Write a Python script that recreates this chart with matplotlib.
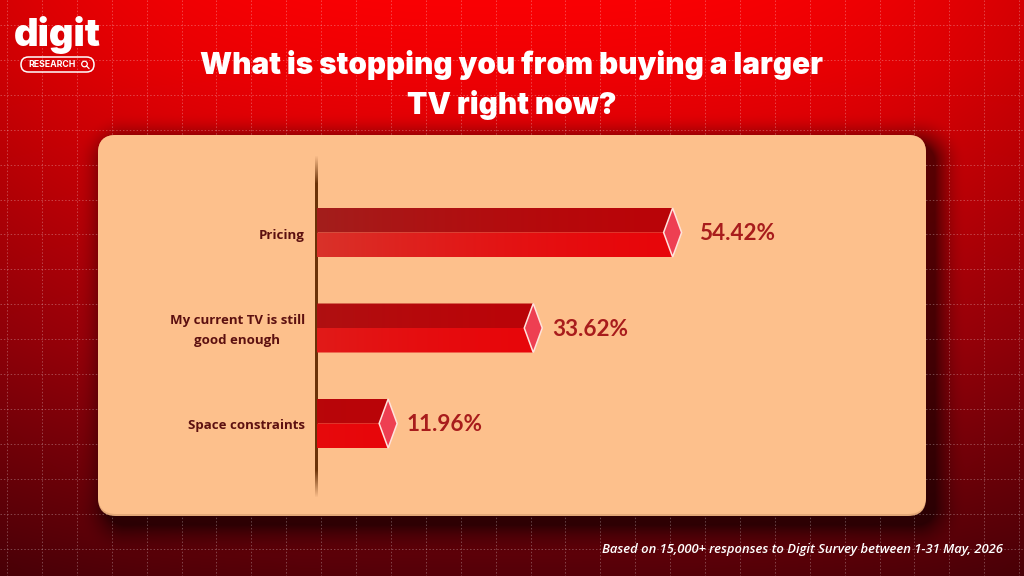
import numpy as np
import matplotlib
matplotlib.use('Agg')
import matplotlib.pyplot as plt
from matplotlib.patches import Polygon, FancyBboxPatch, Circle

categories = ['Pricing', 'My current TV is still\ngood enough', 'Space constraints']
values = [54.42, 33.62, 11.96]
value_labels = ['54.42%', '33.62%', '11.96%']
title = 'What is stopping you from buying a larger\nTV right now?'
footer = 'Based on 15,000+ responses to Digit Survey between 1-31 May, 2026'

W, H = 1024, 576
fig = plt.figure(figsize=(W / 100, H / 100), dpi=100)

# page axes in pixel units, y pointing down
bg = fig.add_axes([0, 0, 1, 1])
bg.set_xlim(0, W)
bg.set_ylim(H, 0)
bg.axis('off')

# red background, fading to maroon, with a soft shadow under the panel
px, py = np.meshgrid(np.arange(W) + .5, np.arange(H) + .5)
top = np.array([250, 0, 4]) / 255
mid = np.array([165, 0, 10]) / 255
bot = np.array([85, 0, 8]) / 255
t = py / H
img = np.zeros((H, W, 3))
for c in range(3):
    img[..., c] = np.interp(t, [0, .12, .6, 1], [top[c], top[c] * .96, mid[c], bot[c]])
edge = np.abs(px - W / 2) / (W / 2)
img *= (1 - .15 * edge[..., None] ** 3)

x0, x1, y0, y1, rad = 98, 926, 135, 516, 18
cx, cy = (x0 + x1) / 2 + 9, (y0 + y1) / 2 + 9
qx = np.abs(px - cx) - ((x1 - x0) / 2 - rad)
qy = np.abs(py - cy) - ((y1 - y0) / 2 - rad)
dist = np.hypot(np.maximum(qx, 0), np.maximum(qy, 0)) + np.minimum(np.maximum(qx, qy), 0) - rad
shadow = np.clip(1 - dist / 32, 0, 1) ** 2 * .55
img *= (1 - shadow[..., None])
bg.imshow(img, extent=[0, W, H, 0], aspect='auto', zorder=0, interpolation='bilinear')
bg.set_xlim(0, W)
bg.set_ylim(H, 0)

# dotted grid
for gx in np.arange(7, W, 34.9):
    bg.plot([gx, gx], [0, H], color='white', lw=.7, ls=(0, (1.5, 2)), alpha=.27, zorder=1)
for gy in np.arange(25, H, 34.9):
    bg.plot([0, W], [gy, gy], color='white', lw=.7, ls=(0, (1.5, 2)), alpha=.27, zorder=1)

# panel
bg.add_patch(FancyBboxPatch((x0 + rad, y0 + rad), x1 - x0 - 2 * rad, y1 - y0 - 2 * rad,
                            boxstyle='round,pad=%d,rounding_size=%d' % (rad, rad),
                            fc='#e3a878', ec='none', zorder=2))
bg.add_patch(FancyBboxPatch((x0 + rad, y0 + rad), x1 - x0 - 2 * rad, y1 - y0 - 2 * rad - 2,
                            boxstyle='round,pad=%d,rounding_size=%d' % (rad, rad),
                            fc='#fdc08c', ec='none', zorder=3))

# title and footer
bg.text(512, 85, title, color='white', fontsize=21.4, fontweight='black', family='Inter',
        ha='center', va='center', linespacing=1.43, zorder=5)
bg.text(1003, 549, footer, color='white', fontsize=9.4, style='italic', fontweight='semibold',
        family='Open Sans', ha='right', va='center', zorder=5)

# logo
bg.text(57.5, 35, 'digit', color='white', fontsize=27.5, fontweight='black', family='Inter',
        ha='center', va='center', zorder=5)
bg.add_patch(FancyBboxPatch((27, 63), 61, 3, boxstyle='round,pad=6,rounding_size=7.5',
                            fc='none', ec='white', lw=1.1, zorder=5))
bg.text(52.5, 64.5, 'RESEARCH', color='white', fontsize=6.3, fontweight='bold', family='Inter',
        ha='center', va='center', zorder=5)
bg.add_patch(Circle((84.5, 64), 2.8, fc='none', ec='white', lw=.9, zorder=5))
bg.plot([86.5, 89], [66, 68.5], color='white', lw=.9, zorder=5)

# chart axes: x in percent, one row per category
ax_left, ax_right = 317, 926
px_per_pct = 6.7
ax = fig.add_axes([ax_left / W, 1 - 516 / H, (ax_right - ax_left) / W, (516 - 135) / H])
ax.set_xlim(0, (ax_right - ax_left) / px_per_pct)
ax.set_ylim(516, 135)
ax.axis('off')
ax.patch.set_alpha(0)

row_y = 232.5 + 95.5 * np.arange(len(values))
half_h = 24.5
dx = 9 / px_per_pct


def face(pts, dark, light, v):
    # gradient runs from the muted left end to saturated red at the bar end
    n = 256
    ramp = (np.clip(np.linspace(v, 0, n) / 54.42, 0, 1) ** 1.6)[None, :, None]
    rgb = np.array(light) / 255 * (1 - ramp) + np.array(dark) / 255 * ramp
    im = ax.imshow(rgb, extent=[0, v, 516, 135], aspect='auto', zorder=3)
    clip = Polygon(pts, transform=ax.transData, fc='none', ec='none')
    ax.add_patch(clip)
    im.set_clip_path(clip)


for cat, v, lab, y, pad in zip(categories, values, value_labels, row_y, [17, 10, 9]):
    corner = v - dx
    inner = v - 2 * dx
    face([(0, y - half_h), (corner, y - half_h), (inner, y), (0, y)],
         (163, 30, 28), (186, 4, 8), v)
    face([(0, y), (inner, y), (corner, y + half_h), (0, y + half_h)],
         (217, 50, 42), (232, 6, 10), v)
    ax.add_patch(Polygon([(inner, y), (corner, y - half_h), (v, y), (corner, y + half_h)],
                         fc='#ee3f52', ec='#ffe3dc', lw=1.1, zorder=4, joinstyle='miter'))
    ax.text(v + pad / px_per_pct, y + 1, lab, color='#a81c1c', fontsize=16.2, fontweight='bold',
            family='Lato', ha='left', va='center', zorder=5, clip_on=False)
    bg.text(305, y + 2.5, cat, color='#5c1010', fontsize=9.5, fontweight='bold', family='Open Sans',
            ha='right', va='center', linespacing=1.7, multialignment='center', zorder=5)
ax.set_xlim(0, (ax_right - ax_left) / px_per_pct)
ax.set_ylim(516, 135)

# vertical axis line, fading out at both ends
ys = np.linspace(155, 498, 343)
fade = np.clip(np.minimum(ys - 155, 498 - ys) / 28, 0, 1)
line = np.zeros((len(ys), 1, 4))
line[..., :3] = np.array([107, 50, 8]) / 255
line[:, 0, 3] = fade
bg.imshow(line, extent=[314.8, 317, 498, 155], aspect='auto', zorder=6)
bg.set_xlim(0, W)
bg.set_ylim(H, 0)

fig.savefig('out.png', dpi=100)
